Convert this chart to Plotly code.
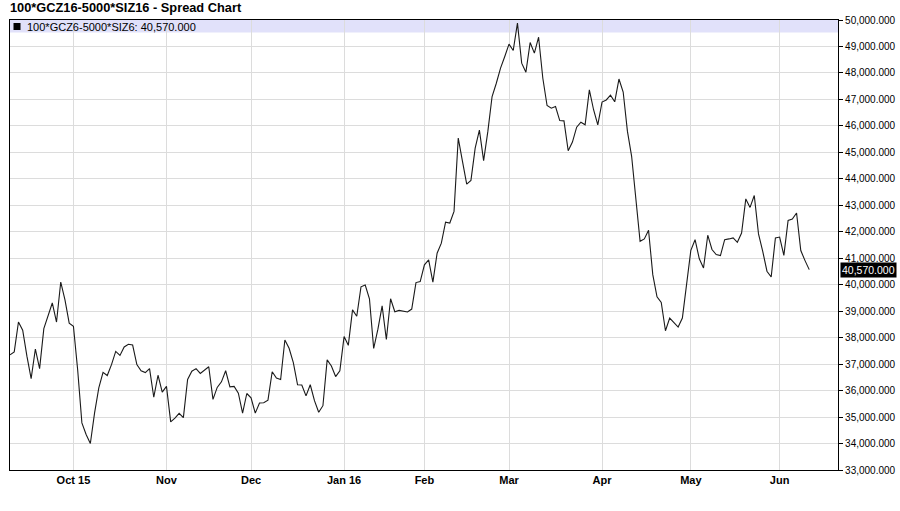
import plotly.graph_objects as go

title_text = "100*GCZ16-5000*SIZ16 - Spread Chart"
series_name = "100*GCZ6-5000*SIZ6"
month_labels = ["Oct 15", "Nov", "Dec", "Jan 16", "Feb", "Mar", "Apr", "May", "Jun"]

# daily closes (trading days), grouped by month
sep15 = [37350, 37460, 38590, 38280, 37300, 36450, 37570, 36830, 38340, 38830,
         39310, 38590, 40100, 39430, 38550]
oct15 = [38430, 36790, 34780, 34340, 34000, 35160, 36100, 36690, 36570, 36980,
         37480, 37330, 37650, 37750, 37720, 36980, 36750, 36680, 36830, 35750,
         36580, 35940]
nov15 = [36160, 34820, 34960, 35140, 34980, 36420, 36730, 36830, 36650, 36790,
         36900, 35670, 36120, 36330, 36750, 36140, 36160, 35900, 35150, 35890]
dec15 = [35730, 35150, 35530, 35540, 35640, 36710, 36470, 36420, 37910, 37600,
         37060, 36220, 36210, 35800, 36220, 35620, 35180, 35430, 37160, 36930,
         36530, 36750]
jan16 = [38040, 37710, 39050, 38810, 39920, 39990, 39470, 37590, 38320, 39200,
         37930, 39470, 38980, 39030, 38990, 38970, 39080, 40080, 40120]
feb16 = [40750, 40940, 40100, 41190, 41570, 42360, 42330, 42770, 45540, 44660,
         43800, 43940, 45160, 45840, 44690, 45790, 47110, 47610, 48180, 48620]
mar16 = [49090, 48850, 49880, 48370, 48030, 49150, 48750, 49350, 47800, 46770,
         46670, 46730, 46200, 46190, 45060, 45390, 45950, 46140, 46040, 47360,
         46610, 46040]
apr16 = [46900, 46980, 47160, 46910, 47770, 47280, 45800, 44850, 43210, 41640,
         41730, 42060, 40380, 39540, 39330, 38260, 38740, 38580, 38400, 38740,
         40000]
may16 = [41300, 41700, 40980, 40630, 41870, 41330, 41140, 41100, 41700, 41730,
         41770, 41600, 41950, 43240, 42920, 43370, 41920, 41260, 40510, 40290,
         41770]
jun16 = [41800, 41110, 42430, 42480, 42710, 41290, 40910, 40570]

months = [sep15, oct15, nov15, dec15, jan16, feb16, mar16, apr16, may16, jun16]
values = [v for m in months for v in m]
x_idx = list(range(len(values)))

tick_pos = []
acc = 0
for m in months[:-1]:
    acc += len(m)
    tick_pos.append(acc)

y_ticks = list(range(33000, 50001, 1000))
last = values[-1]

FONT = "Liberation Sans, Arial, sans-serif"
GRID = "#DCDCDC"

fig = go.Figure()
fig.add_trace(go.Scatter(
    x=x_idx, y=values, mode="lines",
    line=dict(color="#1a1a1a", width=1.1),
    name=series_name, showlegend=False, hoverinfo="skip",
))

fig.update_layout(
    width=900, height=511,
    margin=dict(l=10, r=62, t=20, b=41, autoexpand=False),
    paper_bgcolor="white", plot_bgcolor="white",
    font=dict(family=FONT, color="#000000"),
    title=dict(text="<b>" + title_text + "</b>", xref="container", yref="container",
               x=10 / 900, xanchor="left", y=1 - 8 / 511, yanchor="middle",
               font=dict(family=FONT, size=12.8, color="#000000")),
    xaxis=dict(
        range=[0, 195.8], tickmode="array", tickvals=tick_pos, ticktext=month_labels,
        showgrid=True, gridcolor=GRID, gridwidth=1, zeroline=False,
        showline=True, linecolor="#000000", linewidth=1.2, mirror=True,
        ticks="", automargin=False,
        tickfont=dict(family=FONT, size=11, color="#000000", weight="bold"),
    ),
    yaxis=dict(
        side="right", range=[33000, 50000], tickmode="array", tickvals=y_ticks,
        tickformat=",.3f", showgrid=True, gridcolor=GRID, gridwidth=1, zeroline=False,
        showline=True, linecolor="#000000", linewidth=1.2, mirror=True,
        ticks="outside", ticklen=4, tickcolor="#000000", automargin=False,
        tickfont=dict(family=FONT, size=10, color="#000000"),
    ),
    shapes=[
        dict(type="rect", xref="paper", yref="paper", x0=0, x1=1,
             y0=1 - 12.5 / 450, y1=1, fillcolor="#E1E1FA", line=dict(width=0),
             layer="below"),
        dict(type="rect", xref="paper", yref="paper", x0=3.5 / 828, x1=10.5 / 828,
             y0=1 - 10 / 450, y1=1 - 3 / 450, fillcolor="#000000", line=dict(width=0),
             layer="above"),
    ],
    annotations=[
        dict(text=f"{series_name}: {last:,.3f}", xref="paper", yref="paper",
             x=15 / 828, xanchor="left", y=1 - 6.5 / 450, yanchor="middle",
             showarrow=False, font=dict(family=FONT, size=11, color="#000000")),
        dict(text=f"{last:,.3f}", xref="paper", yref="y", x=1, xanchor="left",
             xshift=2, y=last, yanchor="middle", showarrow=False,
             bgcolor="#000000", borderpad=1,
             font=dict(family=FONT, size=10.5, color="#FFFFFF")),
    ],
)

fig.write_html("out.html", config={"displayModeBar": False},
               post_script="document.body.style.margin='0';")
